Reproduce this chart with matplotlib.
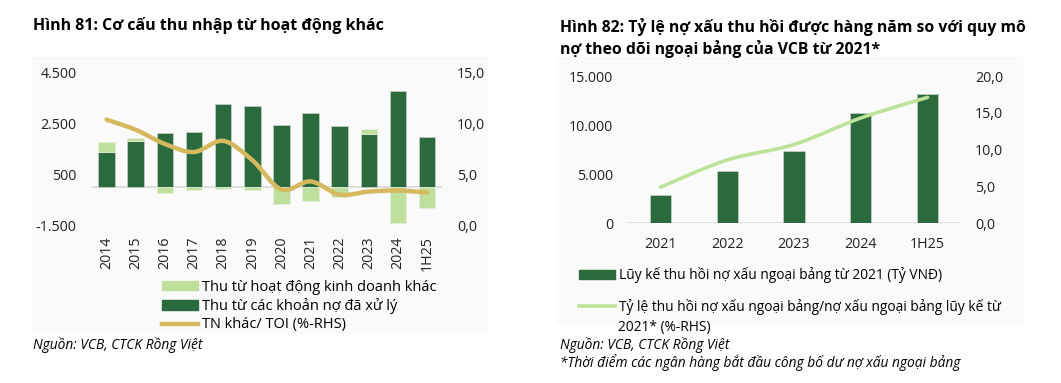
import matplotlib
matplotlib.use("Agg")
import matplotlib.pyplot as plt
from matplotlib.path import Path
from matplotlib.patches import PathPatch, Patch, Rectangle
from matplotlib.lines import Line2D
from matplotlib.ticker import FuncFormatter
import numpy as np

plt.rcParams['font.family'] = ['Open Sans', 'DejaVu Sans']

# ---- Hinh 81 data ----
years81 = ['2014', '2015', '2016', '2017', '2018', '2019',
           '2020', '2021', '2022', '2023', '2024', '1H25']
thu_no_xu_ly = [1400, 1830, 2120, 2185, 3290, 3195, 2435, 2920, 2405, 2090, 3775, 1990]
thu_hd_khac = [395, 90, -235, -100, -60, -130, -655, -550, -395, 185, -1420, -840]
tn_khac_toi = [10.4, 9.4, 8.0, 7.2, 8.3, 6.4, 3.5, 4.3, 3.0, 3.3, 3.4, 3.2]

# ---- Hinh 82 data ----
years82 = ['2021', '2022', '2023', '2024', '1H25']
luy_ke_thu_hoi = [2890, 5310, 7410, 11220, 13160]
ty_le_thu_hoi = [4.9, 8.6, 10.7, 14.3, 17.1]

DARK = '#2a6a3c'
LIGHT = '#bfe09c'
GOLD = '#d6b85e'
LINE82 = '#bde39a'
GRID = '#d9d9d9'

W, H = 1061, 383


def box(l, t, r, b):
    # pixel box -> figure fraction
    return [l / W, 1 - b / H, (r - l) / W, (b - t) / H]


def fx(x):
    return x / W


def fy(y):
    return 1 - y / H


def smooth_path(x, y):
    # excel-like smoothed line drawn as bezier segments through the points
    pts = np.column_stack([x, y]).astype(float)
    n = len(pts)
    verts = [pts[0]]
    codes = [Path.MOVETO]
    for i in range(n - 1):
        p0 = pts[i - 1] if i > 0 else pts[i]
        p1 = pts[i]
        p2 = pts[i + 1]
        p3 = pts[i + 2] if i + 2 < n else pts[i + 1]
        verts += [p1 + (p2 - p0) / 6, p2 - (p3 - p1) / 6, p2]
        codes += [Path.CURVE4] * 3
    return Path(verts, codes)


thousands = FuncFormatter(lambda v, p: f'{v:,.0f}'.replace(',', '.'))
one_dec = FuncFormatter(lambda v, p: f'{v:.1f}'.replace('.', ','))


def clean(ax):
    for s in ax.spines.values():
        s.set_visible(False)
    ax.tick_params(length=0, labelsize=10.3, colors='#222222')
    ax.patch.set_alpha(0)


fig = plt.figure(figsize=(W / 100, H / 100), dpi=100)

# light background panels
fig.add_artist(Rectangle((fx(32), fy(333)), fx(487) - fx(32), fy(57) - fy(333),
                         transform=fig.transFigure, color='#fafafa', zorder=0))
fig.add_artist(Rectangle((fx(557), fy(323)), fx(1022) - fx(557), fy(57) - fy(323),
                         transform=fig.transFigure, color='#fafafa', zorder=0))

# ================= Hinh 81 =================
ax1 = fig.add_axes(box(92, 73, 441.7, 225))
x81 = np.arange(len(years81))
khac = np.array(thu_hd_khac)
dark = np.array(thu_no_xu_ly)
bottom_khac = np.where(khac > 0, dark, 0)
ax1.bar(x81, dark, width=0.57, color=DARK, edgecolor='#c9d4cb', linewidth=0.5, zorder=2)
ax1.bar(x81, khac, bottom=bottom_khac, width=0.57, color=LIGHT,
        edgecolor='#e4eedc', linewidth=0.5, zorder=2)
ax1.axhline(0, color=GRID, lw=1.2, zorder=1)
ax1.set_xlim(-0.5, len(years81) - 0.5)
ax1.set_ylim(-1500, 4500)
ax1.set_yticks([-1500, 500, 2500, 4500])
ax1.yaxis.set_major_formatter(thousands)
ax1.set_xticks(x81)
ax1.set_xticklabels(years81, rotation=90)
clean(ax1)
ax1.tick_params(axis='y', pad=11)
ax1.tick_params(axis='x', pad=8)

ax1r = ax1.twinx()
ax1r.set_ylim(0, 15)
ax1r.set_yticks([0, 5, 10, 15])
ax1r.yaxis.set_major_formatter(one_dec)
ax1r.add_patch(PathPatch(smooth_path(x81, tn_khac_toi), fill=False,
                         edgecolor=GOLD, lw=3.2, capstyle='round', zorder=3))
clean(ax1r)
ax1r.tick_params(axis='y', pad=11)

fig.legend(handles=[Patch(color=LIGHT), Patch(color=DARK),
                    Line2D([], [], color=GOLD, lw=3.2)],
           labels=['Thu từ hoạt động kinh doanh khác', 'Thu từ các khoản nợ đã xử lý',
                   'TN khác/ TOI (%-RHS)'],
           loc='upper left', bbox_to_anchor=(fx(162), fy(280)), frameon=False,
           fontsize=10.5, handlelength=2.5, handleheight=0.6, handletextpad=0.25,
           labelspacing=0.22, borderpad=0, borderaxespad=0)

fig.text(fx(33), fy(25), 'Hình 81: Cơ cấu thu nhập từ hoạt động khác',
         fontsize=11.5, weight='bold', va='center', ha='left')
fig.text(fx(33), fy(345), 'Nguồn: VCB, CTCK Rồng Việt', fontsize=9.9,
         style='italic', va='center', ha='left')

# ================= Hinh 82 =================
ax2 = fig.add_axes(box(627, 76, 961, 223.3))
x82 = np.arange(len(years82))
ax2.bar(x82, luy_ke_thu_hoi, width=0.315, color=DARK, edgecolor='#c9d4cb',
        linewidth=0.5, zorder=2)
ax2.axhline(0, color=GRID, lw=1.2, zorder=1)
ax2.set_xlim(-0.5, len(years82) - 0.5)
ax2.set_ylim(0, 15000)
ax2.set_yticks([0, 5000, 10000, 15000])
ax2.yaxis.set_major_formatter(thousands)
ax2.set_xticks(x82)
ax2.set_xticklabels(years82)
clean(ax2)
ax2.tick_params(axis='y', pad=10)
ax2.tick_params(axis='x', pad=10)

ax2r = ax2.twinx()
ax2r.set_ylim(0, 20)
ax2r.set_yticks([0, 5, 10, 15, 20])
ax2r.yaxis.set_major_formatter(one_dec)
ax2r.add_patch(PathPatch(smooth_path(x82, ty_le_thu_hoi), fill=False,
                         edgecolor=LINE82, lw=2.6, capstyle='round', zorder=3))
clean(ax2r)
ax2r.tick_params(axis='y', pad=10)

fig.legend(handles=[Patch(color=DARK)],
           labels=['Lũy kế thu hồi nợ xấu ngoại bảng từ 2021 (Tỷ VNĐ)'],
           loc='upper left', bbox_to_anchor=(fx(579), fy(267)), frameon=False,
           fontsize=9.9, handlelength=2.6, handleheight=0.6, handletextpad=0.3,
           borderpad=0, borderaxespad=0)
fig.legend(handles=[Line2D([], [], color=LINE82, lw=2.6)],
           labels=['Tỷ lệ thu hồi nợ xấu ngoại bảng/nợ xấu ngoại bảng lũy kế từ'],
           loc='upper left', bbox_to_anchor=(fx(579), fy(299)), frameon=False,
           fontsize=9.9, handlelength=2.6, handletextpad=0.3,
           borderpad=0, borderaxespad=0)
fig.text(fx(618), fy(327), '2021* (%-RHS)', fontsize=9.9, va='center', ha='left')

fig.text(fx(560), fy(27), 'Hình 82: Tỷ lệ nợ xấu thu hồi được hàng năm so với quy mô',
         fontsize=11.3, weight='bold', va='center', ha='left')
fig.text(fx(560), fy(49), 'nợ theo dõi ngoại bảng của VCB từ 2021*',
         fontsize=11.3, weight='bold', va='center', ha='left')
fig.text(fx(560), fy(345), 'Nguồn: VCB, CTCK Rồng Việt', fontsize=9.9,
         style='italic', va='center', ha='left')
fig.text(fx(560), fy(363), '*Thời điểm các ngân hàng bắt đầu công bố dư nợ xấu ngoại bảng',
         fontsize=9.9, style='italic', va='center', ha='left')

fig.savefig('out.png', dpi=100)
